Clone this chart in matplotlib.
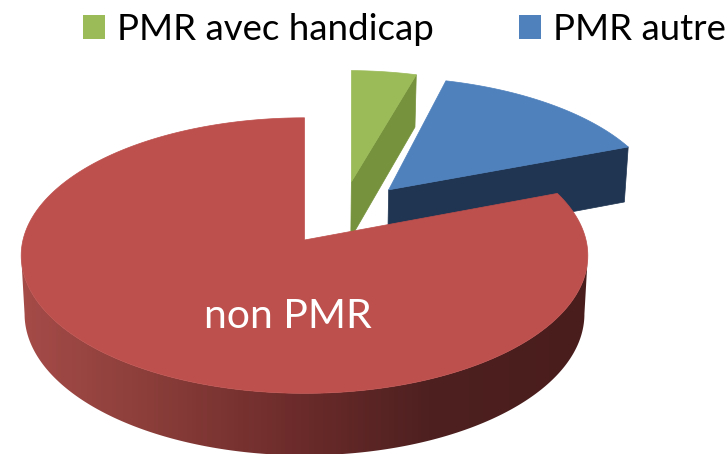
import numpy as np
import matplotlib
matplotlib.use("Agg")
import matplotlib.pyplot as plt
from matplotlib.patches import Patch, Polygon
from matplotlib.colors import LinearSegmentedColormap

# Data
labels = ["PMR avec handicap", "PMR autre", "non PMR"]
shares = [4.3, 14.9, 80.8]
legend_labels = ["PMR avec handicap", "PMR autre"]
slice_label = "non PMR"

# Style
top_colors = ["#9BBB59", "#4F81BD", "#BD4F4C"]
wall_colors = ["#76923C", "#1F3552", "#4C1E1E"]
explode_u = [0.175, 0.312, 0.0]
explode_v = [0.45, 0.385, 0.0]
tilt_deg = [1.1, 0.0, 0.0]
CX, CY, RX, RY, K = 304.5, 240.0, 281.5, 136.0, 0.113


def project(u, v, z=0.0):
    """Disc coordinates to picture coordinates; z=1 is the bottom of the pie."""
    p = 1 + K * v
    s = 1 - 0.012 * z
    return CX + RX * s * u / p, CY - RY * v / p + z * (58 - 4 * v)


def rim(a, ou, ov, z=0.0):
    return project(ou + np.sin(a), ov + np.cos(a), z)


fig = plt.figure(figsize=(7.27, 4.54), dpi=100)
ax = fig.add_axes([0, 0, 1, 1])

wall_cmap = LinearSegmentedColormap.from_list(
    "redwall",
    [(0.0, "#A54B48"), (110 / 570, "#8F403C"), (280 / 570, "#6B2B2A"),
     (410 / 570, "#4E2020"), (1.0, "#4A1D1D")])

edges = np.cumsum([0] + shares) / sum(shares) * 2 * np.pi

for i in range(len(shares)):
    t = np.radians(tilt_deg[i])
    a0, a1 = edges[i] + t, edges[i + 1] + t
    ou, ov = explode_u[i], explode_v[i]
    ang = np.linspace(a0, a1, 480)
    if i < 2:
        # the radial face that looks towards the viewer
        ax.add_patch(Polygon(
            [project(ou, ov), rim(a1, ou, ov), rim(a1, ou, ov, 1), project(ou, ov, 1)],
            closed=True, fc=wall_colors[i], ec=wall_colors[i], lw=0.5, zorder=2 + i))
    else:
        # the curved outer face between the two silhouette points, shaded left to right
        rx_all = np.array(rim(ang, ou, ov)[0])
        vis = ang[int(np.argmax(rx_all)):int(np.argmin(rx_all)) + 1]
        top = list(zip(*rim(vis, ou, ov)))
        bot = list(zip(*rim(vis[::-1], ou, ov, 1)))
        wall = Polygon(top + bot, closed=True, fc="none", ec="none", zorder=2 + i)
        ax.add_patch(wall)
        im = ax.imshow(np.linspace(0, 1, 570).reshape(1, -1), cmap=wall_cmap,
                       extent=(20, 590, 470, 200), aspect="auto", zorder=2 + i,
                       interpolation="bilinear")
        im.set_clip_path(wall)
    # top
    xs, ys = rim(ang, ou, ov)
    ax_pts = [project(ou, ov)] + list(zip(xs, ys))
    ax.add_patch(Polygon(ax_pts, closed=True, fc=top_colors[i], ec=top_colors[i],
                         lw=0.5, zorder=3 + i))

ax.set_xlim(0, 727)
ax.set_ylim(454, 0)
ax.axis("off")

plt.rcParams["font.family"] = ["Lato", "DejaVu Sans"]
ax.text(288, 316, slice_label, color="white", fontsize=29.5, family="Lato",
        ha="center", va="center", zorder=10)

fs = 26.4
handles = [Patch(fc=top_colors[0], ec="none"), Patch(fc=top_colors[1], ec="none")]
px = fs * 100 / 72
leg = ax.legend(handles, legend_labels, ncol=2, frameon=False, loc="lower left",
                bbox_to_anchor=(83 / 727, 1 - 46 / 454), borderpad=0, borderaxespad=0,
                handlelength=22 / px, handleheight=0.6, handletextpad=12 / px,
                columnspacing=85 / px, prop={"family": "Lato", "size": fs})

fig.savefig("out.png", dpi=100)
